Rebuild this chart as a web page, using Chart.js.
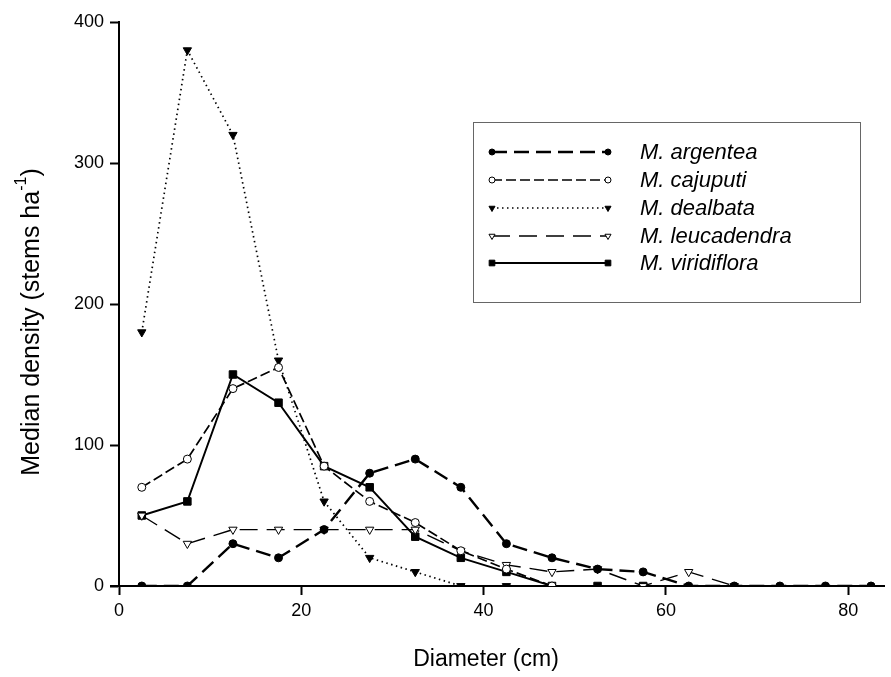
<!DOCTYPE html>
<html>
<head>
<meta charset="utf-8">
<script src="https://cdn.jsdelivr.net/npm/chart.js@4"></script>
<style>
  html, body { margin: 0; padding: 0; background: #fff; }
  #wrap { width: 891px; height: 677px; }
</style>
</head>
<body>
<div id="wrap"><canvas id="myChart" width="891" height="677"></canvas></div>
<script>
// diameter class midpoints (cm)
const diameters = [2.5, 7.5, 12.5, 17.5, 22.5, 27.5, 32.5, 37.5, 42.5, 47.5, 52.5, 57.5, 62.5, 67.5, 72.5, 77.5, 82.5];

// median density (stems ha-1)
const argentea    = [0, 0, 30, 20, 40, 80, 90, 70, 30, 20, 12, 10, 0, 0, 0, 0, 0];
const cajuputi    = [70, 90, 140, 155, 85, 60, 45, 25, 12, 0, null, null, null, null, null, null, null];
const dealbata    = [180, 380, 320, 160, 60, 20, 10, 0, 0, null, null, null, null, null, null, null, null];
const leucadendra = [50, 30, 40, 40, 40, 40, 40, 25, 15, 10, 12, 0, 10, 0, null, null, null];
const viridiflora = [50, 60, 150, 130, 85, 70, 35, 20, 10, 0, 0, 0, null, null, null, null, null];

const xTicksMax = 84;
const yTicks = [0, 100, 200, 300, 400];

function toPoints(values) {
  return diameters.map((d, i) => ({ x: d, y: values[i] }));
}

const FONT = '"Liberation Sans", Arial, sans-serif';

const datasets = [
  { label: 'M. argentea', data: toPoints(argentea), borderWidth: 2.4, borderDash: [15, 7],
    pointStyle: 'circle', pointRadius: 4, pointBackgroundColor: '#000', legendRadius: 3 },
  { label: 'M. cajuputi', data: toPoints(cajuputi), borderWidth: 1.7, borderDash: [10, 4],
    pointStyle: 'circle', pointRadius: 4, pointBackgroundColor: '#fff', legendRadius: 3 },
  { label: 'M. dealbata', data: toPoints(dealbata), borderWidth: 1.7, borderDash: [1.5, 3.5],
    pointStyle: 'triangle', pointRotation: 180, pointRadius: 4.8, pointBackgroundColor: '#000', legendRadius: 3.5 },
  { label: 'M. leucadendra', data: toPoints(leucadendra), borderWidth: 1.4, borderDash: [18, 9],
    pointStyle: 'triangle', pointRotation: 180, pointRadius: 4.8, pointBackgroundColor: '#fff', legendRadius: 3.5 },
  { label: 'M. viridiflora', data: toPoints(viridiflora), borderWidth: 1.9, borderDash: [],
    pointStyle: 'rect', pointRadius: 5.3, pointBackgroundColor: '#000', legendRadius: 4 }
];
datasets.forEach(ds => {
  ds.borderColor = '#000';
  ds.pointBorderColor = '#000';
  ds.pointBorderWidth = 1;
  ds.fill = false;
  ds.tension = 0;
  ds.spanGaps = false;
});

// legend box and axis titles drawn by hand, the figure has a superscript and line samples with end markers
const customDecor = {
  id: 'customDecor',
  afterDraw(chart) {
    const ctx = chart.ctx;
    const area = chart.chartArea;
    ctx.save();

    // little stub of the x axis left of the origin
    ctx.strokeStyle = '#000';
    ctx.lineWidth = 2;
    ctx.beginPath();
    ctx.moveTo(area.left - 9, area.bottom);
    ctx.lineTo(area.left, area.bottom);
    ctx.stroke();

    // y title
    ctx.fillStyle = '#000';
    const big = '25px ' + FONT, small = '16px ' + FONT;
    const main = 'Median density (stems ha';
    const sup = '-1';
    const tail = ')';
    ctx.font = big;
    const wMain = ctx.measureText(main).width;
    const wTail = ctx.measureText(tail).width;
    ctx.font = small;
    const wSup = ctx.measureText(sup).width;
    const total = wMain + wSup + wTail;
    ctx.translate(32, 322);
    ctx.rotate(-Math.PI / 2);
    ctx.textBaseline = 'middle';
    ctx.textAlign = 'left';
    let x0 = -total / 2;
    ctx.font = big;
    ctx.fillText(main, x0, 0);
    ctx.font = small;
    ctx.fillText(sup, x0 + wMain, -10);
    ctx.font = big;
    ctx.fillText(tail, x0 + wMain + wSup, 0);
    ctx.setTransform(1, 0, 0, 1, 0, 0);

    // x title
    ctx.textAlign = 'center';
    ctx.font = '23px ' + FONT;
    ctx.fillText('Diameter (cm)', 486, 660);

    // legend
    const box = { left: 473, top: 122, right: 860, bottom: 302 };
    ctx.strokeStyle = '#666';
    ctx.lineWidth = 1;
    ctx.strokeRect(box.left + 0.5, box.top + 0.5, box.right - box.left, box.bottom - box.top);
    const rowY = [152, 180, 208, 236, 263];
    const sx1 = 492, sx2 = 608;
    chart.data.datasets.forEach((ds, i) => {
      const y = rowY[i];
      ctx.strokeStyle = '#000';
      ctx.lineWidth = ds.borderWidth;
      ctx.setLineDash(ds.borderDash);
      ctx.beginPath();
      ctx.moveTo(sx1, y);
      ctx.lineTo(sx2, y);
      ctx.stroke();
      ctx.setLineDash([]);
      ctx.fillStyle = ds.pointBackgroundColor;
      ctx.lineWidth = 1;
      [sx1, sx2].forEach(px => {
        Chart.helpers.drawPoint(ctx, {
          pointStyle: ds.pointStyle, radius: ds.legendRadius,
          rotation: ds.pointRotation || 0, borderWidth: 1
        }, px, y);
      });
      ctx.fillStyle = '#000';
      ctx.font = 'italic 22px ' + FONT;
      ctx.textAlign = 'left';
      ctx.textBaseline = 'middle';
      ctx.fillText(ds.label, 640, y + 1);
    });
    ctx.restore();
  }
};

const ctx = document.getElementById('myChart');
const myChart = new Chart(ctx, {
  type: 'line',
  data: { datasets: datasets },
  options: {
    responsive: false,
    animation: false,
    layout: { padding: { top: 22, right: 0, left: 0, bottom: 0 } },
    plugins: { legend: { display: false }, tooltip: { enabled: false } },
    scales: {
      x: {
        type: 'linear',
        min: 0,
        max: xTicksMax,
        ticks: { stepSize: 20, includeBounds: false, color: '#000', font: { size: 18, family: FONT }, padding: 5 },
        grid: { drawOnChartArea: false, tickLength: 9, tickColor: '#000', tickWidth: 2 },
        border: { color: '#000', width: 2 },
        afterFit(scale) { scale.height = 91; }
      },
      y: {
        min: 0,
        max: 400,
        afterBuildTicks(scale) { scale.ticks = yTicks.map(v => ({ value: v })); },
        ticks: { color: '#000', font: { size: 18, family: FONT }, padding: 6 },
        grid: { drawOnChartArea: false, tickLength: 9, tickColor: '#000', tickWidth: 2 },
        border: { color: '#000', width: 2 },
        afterFit(scale) { scale.width = 119; }
      }
    }
  },
  plugins: [customDecor]
});
</script>
</body>
</html>
